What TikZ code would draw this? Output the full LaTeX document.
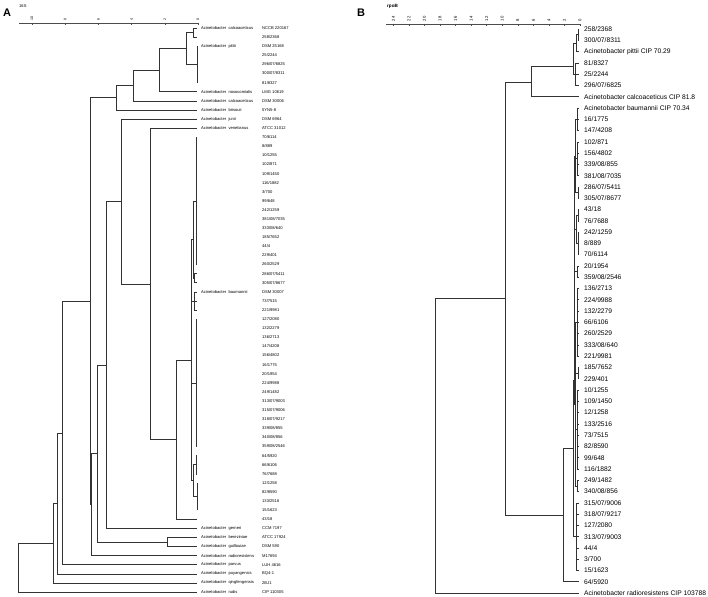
\documentclass[tikz,border=0pt]{standalone}
\usepackage{fontspec}
\setmainfont{Liberation Sans}
\usetikzlibrary{calc}
\def\topA{28}
\def\rowA{9.097}
\def\leafA{197}
\def\topB{29}
\def\rowB{11.28}
\def\leafB{579}
% parent coordinate half way between two children
\newcommand{\midpt}[4]{\path let \p1=(#3), \p2=(#4) in (#2pt,{(\y1+\y2)/2}) coordinate (#1);}
\newcommand{\clade}[5]{\midpt{#1}{#2}{#3}{#4}\foreach \ch in {#5}{\draw[branch] (#1) |- (\ch);}}
\newcommand{\comb}[5]{\midpt{#1}{#2}{#3#4}{#3#5}\foreach \k in {#4,...,#5}{\draw[branch] (#1) |- (#3\k);}}
% parent coordinate at a given height
\newcommand{\cladeat}[4]{\coordinate (#1) at (#2,#3);\foreach \ch in {#4}{\draw[branch] (#1) |- (\ch);}}
\begin{document}
\begin{tikzpicture}[x=1pt,y=-1pt,
  branch/.style={draw=black!80, line width=0.5pt},
  axisline/.style={draw=black!70, line width=0.4pt},
  labA/.style={anchor=west, inner sep=0pt, font=\fontsize{4.1}{5}\selectfont},
  labB/.style={anchor=west, inner sep=0pt, font=\fontsize{6.7}{8}\selectfont},
  tickA/.style={rotate=90, anchor=west, inner sep=0pt, font=\fontsize{3.6}{4}\selectfont},
  tickB/.style={rotate=90, anchor=west, inner sep=0pt, font=\fontsize{4.2}{5}\selectfont},
  panel/.style={anchor=west, inner sep=0pt, font=\fontsize{11}{12}\selectfont\bfseries}]
\useasboundingbox (0,0) rectangle (708,596);
\node[panel] (pA) at (3,13) {A};
\node[panel] (pB) at (357,13) {B};

% ---- 16S axis
\node[labA] (gA) at (19,6) {16S};
\draw[axisline] (19,23) coordinate (axA0) -- (198,23) coordinate (axA1);
\foreach \k in {0,...,53}{\draw[axisline] ({198-\k*3.32},23) -- ++(0,1.5);}
\foreach \v [count=\k from 0] in {0,2,4,6,8,10}{
  \draw[axisline] ({198-\k*33.2},23) -- ++(0,2.5);
  \node[tickA] (tA\k) at ({198-\k*33.2},20.5) {\v};}

% ---- 16S leaves
\foreach \s [count=\i] in {NCCB 220167, 258/2368, DSM 25168, 25/2244, 296/07/6825,
  300/07/8311, 81/8327, LMG 10619, DSM 30006, 5YN5-8, DSM 6964, ATCC 31012, 70/6114,
  8/889, 10/1255, 102/871, 109/1450, 116/1882, 3/700, 99/648, 242/1259, 381/08/7035,
  333/08/640, 185/7652, 44/4, 229/401, 260/2529, 286/07/5411, 305/07/8677, DSM 30007,
  73/7515, 221/9981, 127/2080, 132/2279, 136/2713, 147/4208, 156/4802, 16/1775, 20/1954,
  224/9988, 249/1482, 313/07/9003, 315/07/9006, 318/07/9217, 339/08/855, 340/08/856,
  359/08/2546, 64/5920, 66/6106, 76/7688, 12/1258, 82/8590, 133/2516, 15/1623, 43/18,
  CCM 7197, ATCC 17924, DSM 590, M17694, LUH 4616, BQ4-1, 2BJ1, CIP 110305}{
  \coordinate (a\i) at (\leafA,{\topA+(\i-1)*\rowA});
  \node[labA] (sa\i) at (262,{\topA+(\i-1)*\rowA}) {\s};}
\foreach \r/\n in {1/calcoaceticus, 3/pittii, 8/nosocomialis, 9/calcoaceticus,
  10/brisouii, 11/junii, 12/venetianus, 30/baumannii, 56/gerneri, 57/bereziniae,
  58/guillouiae, 59/radioresistens, 60/parvus, 61/puyangensis, 62/qingfengensis, 63/rudis}{
  \node[labA] (na\r) at (201,{\topA+(\r-1)*\rowA}) {Acinetobacter\ \ \n};}

% ---- 16S tree
\clade{ca1}{193}{a1}{a2}{a1,a2}
\comb{ca2}{197}{a}{3}{7}
\clade{ca3}{186}{ca1}{ca2}{ca1,ca2}
\clade{ca4}{159}{ca3}{a8}{ca3,a8}
\clade{ca5}{133}{ca4}{a9}{ca4,a9}
\clade{ca6}{116}{ca5}{a10}{ca5,a10}
\comb{cb1}{196}{a}{13}{27}
\clade{cb2}{194}{a28}{a29}{a28,a29}
\clade{cb3}{193}{cb1}{cb2}{cb1,cb2}
\comb{cb4}{194}{a}{30}{32}
\comb{cb5}{196}{a}{33}{47}
\comb{cb6}{196}{a}{48}{50}
\comb{cb7}{197}{a}{51}{54}
\clade{cb8}{193}{cb6}{cb7}{cb6,cb7}
\clade{cb9}{191}{cb3}{cb8}{cb3,cb4,cb5,cb8}
\clade{ca7}{176}{cb9}{a55}{cb9,a55}
\clade{ca8}{150}{a12}{ca7}{a12,ca7}
\clade{ca9}{121}{a11}{ca8}{a11,ca8}
\clade{ca10}{106}{ca9}{a56}{ca9,a56}
\clade{ca11}{167}{a57}{a58}{a57,a58}
\clade{ca12}{97}{ca10}{ca11}{ca10,ca11}
\clade{ca13}{91}{ca12}{a59}{ca12,a59}
\clade{ca14}{90}{ca6}{ca13}{ca6,ca13}
\clade{ca15}{62}{ca14}{a60}{ca14,a60}
\clade{ca16}{57}{ca15}{a61}{ca15,a61}
\clade{ca17}{53}{ca16}{a62}{ca16,a62}
\clade{ca18}{18}{ca17}{a63}{ca17,a63}

% ---- rpoB axis
\node[labA, font=\fontsize{4.6}{5}\selectfont\bfseries] (gB) at (387,6) {rpoB};
\draw[axisline] (386,24) coordinate (axB0) -- (581,24) coordinate (axB1);
\foreach \k in {0,...,49}{\draw[axisline] ({580-\k*3.89},24) -- ++(0,1.5);}
\foreach \v in {0,2,...,24}{
  \draw[axisline] ({580-\v*7.78},24) -- ++(0,2.5);
  \node[tickB] (tB\v) at ({580-\v*7.78},21.5) {\v};}

% ---- rpoB leaves
\foreach \s [count=\i] in {258/2368, 300/07/8311, Acinetobacter pittii CIP 70.29,
  81/8327, 25/2244, 296/07/6825, Acinetobacter calcoaceticus CIP 81.8,
  Acinetobacter baumannii CIP 70.34, 16/1775, 147/4208, 102/871, 156/4802, 339/08/855,
  381/08/7035, 286/07/5411, 305/07/8677, 43/18, 76/7688, 242/1259, 8/889, 70/6114,
  20/1954, 359/08/2546, 136/2713, 224/9988, 132/2279, 66/6106, 260/2529, 333/08/640,
  221/9981, 185/7652, 229/401, 10/1255, 109/1450, 12/1258, 133/2516, 73/7515, 82/8590,
  99/648, 116/1882, 249/1482, 340/08/856, 315/07/9006, 318/07/9217, 127/2080,
  313/07/9003, 44/4, 3/700, 15/1623, 64/5920, Acinetobacter radioresistens CIP 103788}{
  \coordinate (b\i) at (\leafB,{\topB+(\i-1)*\rowB});
  \node[labB] (sb\i) at (584,{\topB+(\i-1)*\rowB}) {\s};}

% ---- rpoB tree
\clade{p1}{578}{b1}{b2}{b1,b2}
\clade{p2}{576}{p1}{b3}{p1,b3}
\comb{p3}{575}{b}{4}{6}
\cladeat{p4}{573}{66}{p2,p3}
\cladeat{p5}{531}{82}{p4,b7}
\comb{q1}{577}{b}{8}{10}
\comb{q2}{577}{b}{11}{14}
\comb{q3}{578}{b}{15}{16}
\clade{q4}{575}{q1}{q3}{q1,q2,q3}
\comb{q5}{578}{b}{17}{18}
\comb{q6}{578}{b}{19}{21}
\clade{q7}{576}{q5}{q6}{q5,q6}
\comb{q8}{577}{b}{22}{23}
\clade{q9}{574}{q4}{q8}{q4,q7,q8}
\comb{q10}{577}{b}{24}{30}
\comb{q11}{578}{b}{31}{32}
\comb{q12}{577}{b}{33}{40}
\comb{q13}{577}{b}{41}{42}
\clade{q14}{575}{q10}{q13}{q10,q11,q12,q13}
\cladeat{q15}{574}{380}{q9,q14}
\comb{q16}{576}{b}{43}{49}
\cladeat{q17}{573}{448}{q15,q16}
\cladeat{q18}{563}{515}{q17,b50}
\clade{q19}{505}{p5}{q18}{p5,q18}
\clade{q20}{435}{q19}{b51}{q19,b51}
\end{tikzpicture}
\end{document}
